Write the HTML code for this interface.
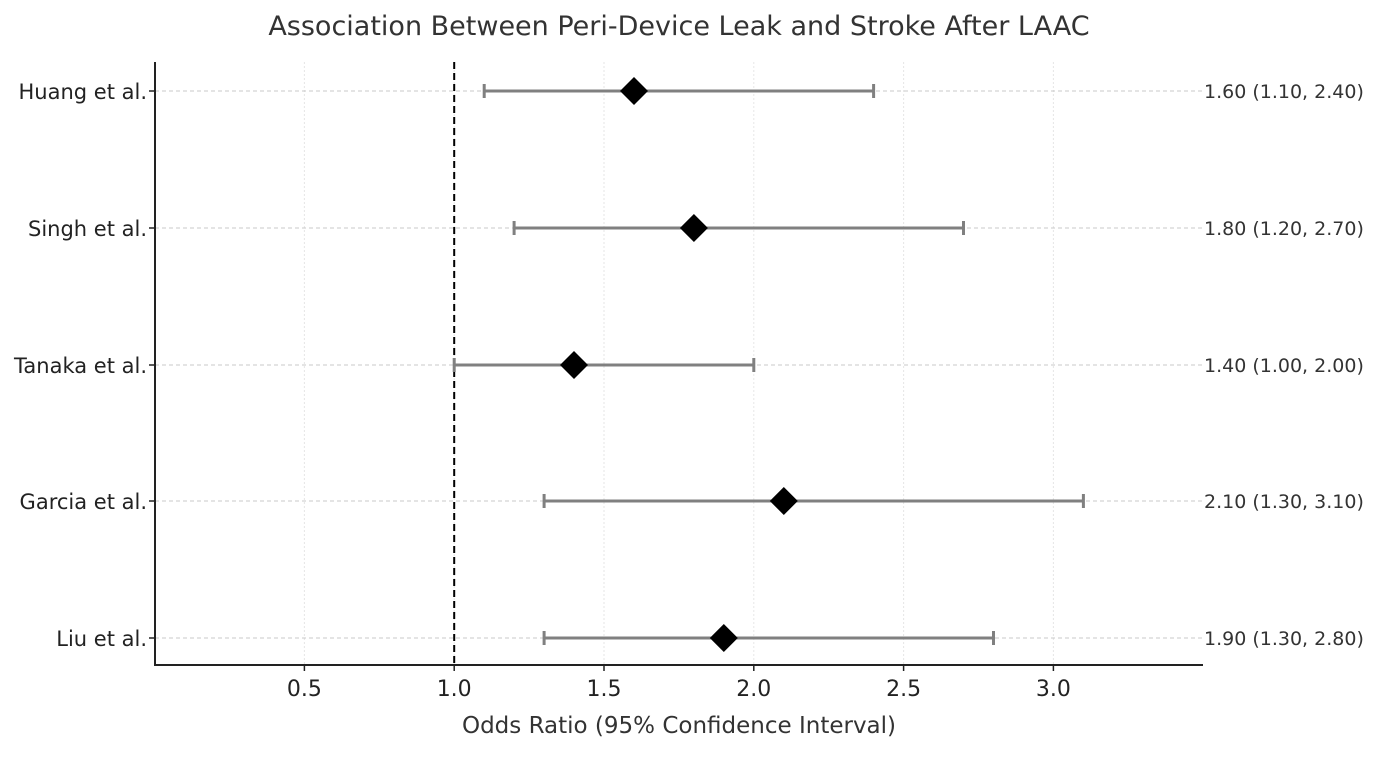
<!DOCTYPE html>
<html><head><meta charset="utf-8"><style>html,body{margin:0;padding:0;background:#fff}</style></head>
<body>
<svg width="1379" height="753" xmlns="http://www.w3.org/2000/svg" font-family="DejaVu Sans, Liberation Sans, sans-serif">
<rect width="1379" height="753" fill="#fff"/>
<text x="679" y="35" font-size="27" text-anchor="middle" fill="#333">Association Between Peri-Device Leak and Stroke After LAAC</text>
<g stroke="#e6e6e6" stroke-width="1" stroke-dasharray="2,2">
<line x1="304.4" y1="62" x2="304.4" y2="665"/>
<line x1="454.2" y1="62" x2="454.2" y2="665"/>
<line x1="604" y1="62" x2="604" y2="665"/>
<line x1="753.8" y1="62" x2="753.8" y2="665"/>
<line x1="903.6" y1="62" x2="903.6" y2="665"/>
<line x1="1053.4" y1="62" x2="1053.4" y2="665"/>
</g>
<g stroke="#c8c8c8" stroke-width="1" stroke-dasharray="4,3">
<line x1="155" y1="91" x2="1203" y2="91"/>
<line x1="155" y1="228" x2="1203" y2="228"/>
<line x1="155" y1="365" x2="1203" y2="365"/>
<line x1="155" y1="501" x2="1203" y2="501"/>
<line x1="155" y1="638" x2="1203" y2="638"/>
</g>
<line x1="454.2" y1="62" x2="454.2" y2="665" stroke="#000" stroke-width="2" stroke-dasharray="7,4"/>
<g stroke="#808080" stroke-width="3">
<line x1="484.2" y1="91" x2="873.6" y2="91"/><line x1="484.2" y1="84" x2="484.2" y2="98"/><line x1="873.6" y1="84" x2="873.6" y2="98"/>
<line x1="514.1" y1="228" x2="963.5" y2="228"/><line x1="514.1" y1="221" x2="514.1" y2="235"/><line x1="963.5" y1="221" x2="963.5" y2="235"/>
<line x1="454.2" y1="365" x2="753.8" y2="365"/><line x1="454.2" y1="358" x2="454.2" y2="372"/><line x1="753.8" y1="358" x2="753.8" y2="372"/>
<line x1="544.1" y1="501" x2="1083.4" y2="501"/><line x1="544.1" y1="494" x2="544.1" y2="508"/><line x1="1083.4" y1="494" x2="1083.4" y2="508"/>
<line x1="544.1" y1="638" x2="993.5" y2="638"/><line x1="544.1" y1="631" x2="544.1" y2="645"/><line x1="993.5" y1="631" x2="993.5" y2="645"/>
</g>
<g fill="#000">
<polygon points="634,77 648,91 634,105 620,91"/>
<polygon points="693.9,214 707.9,228 693.9,242 679.9,228"/>
<polygon points="574,351 588,365 574,379 560,365"/>
<polygon points="783.8,487 797.8,501 783.8,515 769.8,501"/>
<polygon points="723.8,624 737.8,638 723.8,652 709.8,638"/>
</g>
<g stroke="#222" stroke-width="2">
<line x1="155" y1="62" x2="155" y2="666"/>
<line x1="154" y1="665" x2="1203" y2="665"/>
</g>
<g stroke="#222" stroke-width="1.5">
<line x1="149" y1="91" x2="155" y2="91"/><line x1="149" y1="228" x2="155" y2="228"/><line x1="149" y1="365" x2="155" y2="365"/><line x1="149" y1="501" x2="155" y2="501"/><line x1="149" y1="638" x2="155" y2="638"/>
<line x1="304.4" y1="665" x2="304.4" y2="671"/><line x1="454.2" y1="665" x2="454.2" y2="671"/><line x1="604" y1="665" x2="604" y2="671"/><line x1="753.8" y1="665" x2="753.8" y2="671"/><line x1="903.6" y1="665" x2="903.6" y2="671"/><line x1="1053.4" y1="665" x2="1053.4" y2="671"/>
</g>
<g font-size="21" fill="#222" text-anchor="end">
<text x="147" y="99">Huang et al.</text>
<text x="147" y="236">Singh et al.</text>
<text x="147" y="373">Tanaka et al.</text>
<text x="147" y="509">Garcia et al.</text>
<text x="147" y="646">Liu et al.</text>
</g>
<g font-size="22" fill="#222" text-anchor="middle">
<text x="304.4" y="696">0.5</text><text x="454.2" y="696">1.0</text><text x="604" y="696">1.5</text><text x="753.8" y="696">2.0</text><text x="903.6" y="696">2.5</text><text x="1053.4" y="696">3.0</text>
</g>
<g font-size="19" fill="#333">
<text x="1204" y="98">1.60 (1.10, 2.40)</text>
<text x="1204" y="235">1.80 (1.20, 2.70)</text>
<text x="1204" y="372">1.40 (1.00, 2.00)</text>
<text x="1204" y="508">2.10 (1.30, 3.10)</text>
<text x="1204" y="645">1.90 (1.30, 2.80)</text>
</g>
<text x="679" y="733" font-size="23" text-anchor="middle" fill="#333">Odds Ratio (95% Confidence Interval)</text>
</svg>
</body></html>
